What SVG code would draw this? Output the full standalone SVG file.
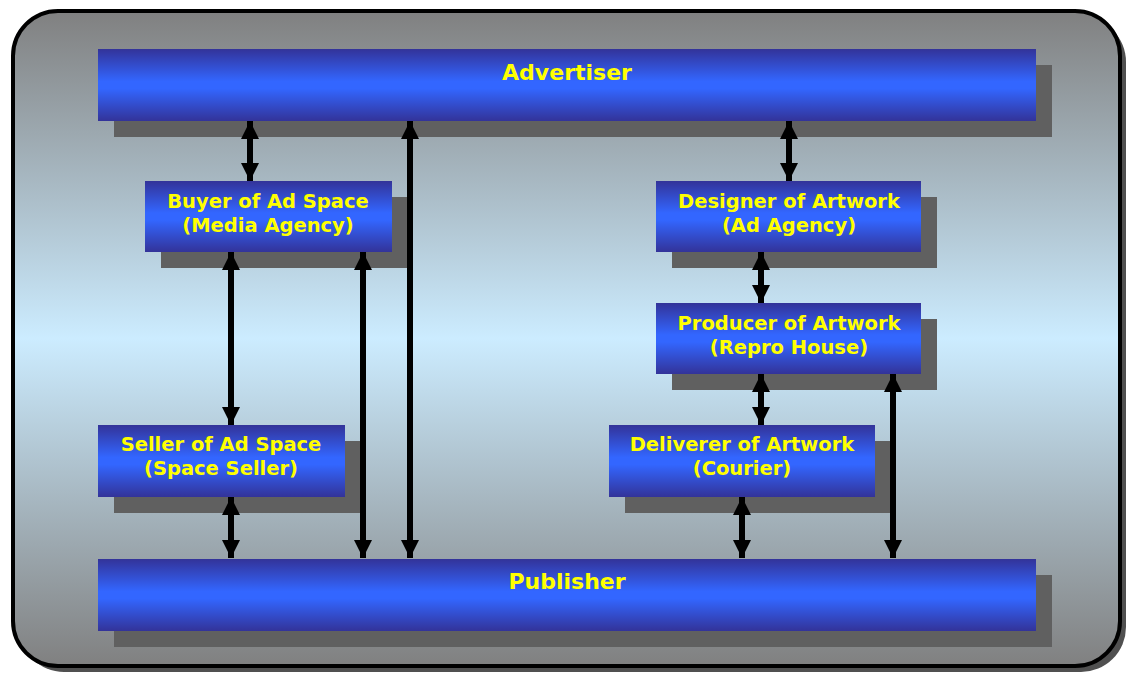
<svg xmlns="http://www.w3.org/2000/svg" width="1133" height="677" viewBox="0 0 1133 677">
  <defs>
    <linearGradient id="bg" x1="0" y1="0" x2="0" y2="1">
      <stop offset="0" stop-color="#808080"/>
      <stop offset="0.5" stop-color="#CCECFF"/>
      <stop offset="1" stop-color="#808080"/>
    </linearGradient>
    <linearGradient id="bar" x1="0" y1="0" x2="0" y2="1">
      <stop offset="0" stop-color="#333399"/>
      <stop offset="0.45" stop-color="#3366FF"/>
      <stop offset="0.55" stop-color="#3366FF"/>
      <stop offset="1" stop-color="#333399"/>
    </linearGradient>
    <marker id="head" viewBox="0 0 10 10" refX="10" refY="5" markerWidth="18" markerHeight="18" markerUnits="userSpaceOnUse" orient="auto-start-reverse">
      <path d="M0,0 L10,5 L0,10 Z" fill="#000"/>
    </marker>
    <style>
      .shadow { fill: #606060; }
      .box { fill: url(#bar); }
      .label { font-family: "DejaVu Sans", Verdana, sans-serif; font-weight: bold; font-size: 19.5px; fill: #FFFF00; text-anchor: middle; }
      .title { font-size: 22px; }
      .link { stroke: #000; stroke-width: 6; fill: none; marker-start: url(#head); marker-end: url(#head); }
    </style>
  </defs>

  <!-- frame -->
  <rect x="19" y="17" width="1107" height="655" rx="45" fill="#505050"/>
  <rect x="13" y="11" width="1107" height="655" rx="45" fill="url(#bg)" stroke="#000" stroke-width="4"/>

  <g id="advertiser">
    <rect class="shadow" x="114" y="65" width="938" height="72"/>
    <rect class="box" x="98" y="49" width="938" height="72"/>
    <text class="label title" x="567" y="80">Advertiser</text>
  </g>

  <g id="buyer">
    <rect class="shadow" x="161" y="197" width="247" height="71"/>
    <rect class="box" x="145" y="181" width="247" height="71"/>
    <text class="label" x="268" y="208">Buyer of Ad Space</text>
    <text class="label" x="268" y="232">(Media Agency)</text>
  </g>

  <g id="designer">
    <rect class="shadow" x="672" y="197" width="265" height="71"/>
    <rect class="box" x="656" y="181" width="265" height="71"/>
    <text class="label" x="789" y="208">Designer of Artwork</text>
    <text class="label" x="789" y="232">(Ad Agency)</text>
  </g>

  <g id="producer">
    <rect class="shadow" x="672" y="319" width="265" height="71"/>
    <rect class="box" x="656" y="303" width="265" height="71"/>
    <text class="label" x="789" y="330">Producer of Artwork</text>
    <text class="label" x="789" y="354">(Repro House)</text>
  </g>

  <g id="seller">
    <rect class="shadow" x="114" y="441" width="247" height="72"/>
    <rect class="box" x="98" y="425" width="247" height="72"/>
    <text class="label" x="221" y="451">Seller of Ad Space</text>
    <text class="label" x="221" y="475">(Space Seller)</text>
  </g>

  <g id="deliverer">
    <rect class="shadow" x="625" y="441" width="266" height="72"/>
    <rect class="box" x="609" y="425" width="266" height="72"/>
    <text class="label" x="742" y="451">Deliverer of Artwork</text>
    <text class="label" x="742" y="475">(Courier)</text>
  </g>

  <g id="publisher">
    <rect class="shadow" x="114" y="575" width="938" height="72"/>
    <rect class="box" x="98" y="559" width="938" height="72"/>
    <text class="label title" x="567" y="589">Publisher</text>
  </g>

  <g id="connectors">
    <line class="link" x1="250" y1="121" x2="250" y2="181"/>
    <line class="link" x1="410" y1="121" x2="410" y2="558"/>
    <line class="link" x1="789" y1="121" x2="789" y2="181"/>
    <line class="link" x1="231" y1="252" x2="231" y2="425"/>
    <line class="link" x1="363" y1="252" x2="363" y2="558"/>
    <line class="link" x1="761" y1="252" x2="761" y2="303"/>
    <line class="link" x1="761" y1="374" x2="761" y2="425"/>
    <line class="link" x1="893" y1="374" x2="893" y2="558"/>
    <line class="link" x1="231" y1="497" x2="231" y2="558"/>
    <line class="link" x1="742" y1="497" x2="742" y2="558"/>
  </g>
</svg>
